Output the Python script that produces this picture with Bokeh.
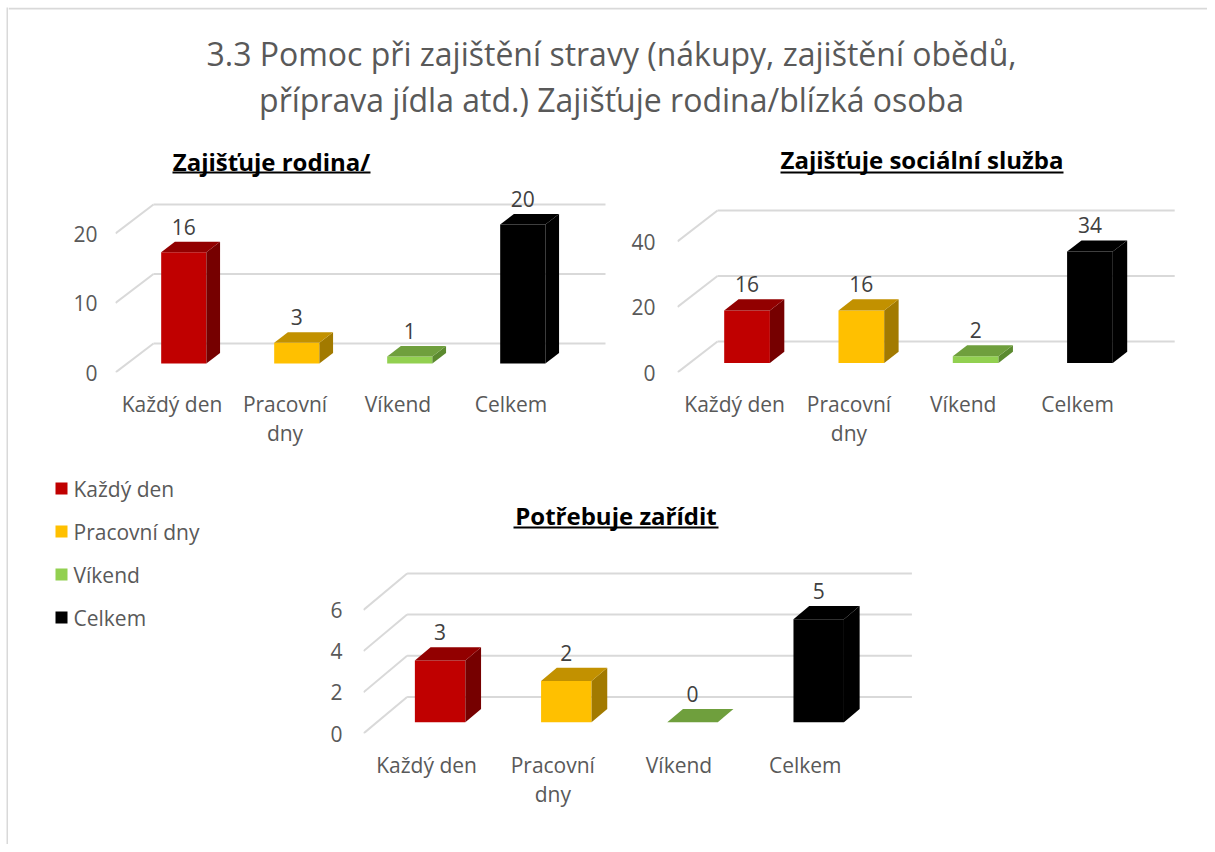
from bokeh.plotting import figure
from bokeh.layouts import column, row
from bokeh.models import Range1d, FixedTicker, Spacer
from bokeh.embed import file_html
from bokeh.resources import INLINE
from bokeh.core.properties import value

# ---------------- data ----------------
chart_title_lines = [
    "3.3 Pomoc při zajištění stravy (nákupy, zajištění obědů,",
    "příprava jídla atd.) Zajišťuje rodina/blízká osoba",
]
categories = ["Každý den", "Pracovní dny", "Víkend", "Celkem"]
category_axis_labels = ["Každý den", "Pracovní\ndny", "Víkend", "Celkem"]

rodina_title = "Zajišťuje rodina/"
rodina_values = [16, 3, 1, 20]
rodina_ticks = [0, 10, 20]

socialni_title = "Zajišťuje sociální služba"
socialni_values = [16, 16, 2, 34]
socialni_ticks = [0, 20, 40]

zaridit_title = "Potřebuje zařídit"
zaridit_values = [3, 2, 0, 5]
zaridit_ticks = [0, 2, 4, 6]

front_colors = ["#c00000", "#ffc000", "#92d050", "#000000"]
top_colors = ["#920000", "#c29100", "#6f9f3d", "#000000"]
side_colors = ["#760000", "#a27a00", "#5b8a2f", "#000000"]

FONT = value("Open Sans")
GREY = "#595959"
GRID = "#d9d9d9"


def make_chart(title, values, ticks, width, height, left, bottom, cat_px, val_px,
               depth_px, sub_x, sub_base, sub_line, sub_half, y_standoff):
    frame_w = width - left
    frame_h = height - bottom
    x0r = 0.5
    p = figure(width=width, height=height,
               x_range=Range1d(x0r, x0r + frame_w / cat_px),
               y_range=Range1d(0, frame_h / val_px),
               output_backend="svg", toolbar_location=None,
               min_border_left=left, min_border_bottom=bottom,
               min_border_top=0, min_border_right=0,
               outline_line_color=None, background_fill_color="white",
               border_fill_color="white")
    p.grid.visible = False
    dx = depth_px[0] / cat_px
    dy = depth_px[1] / val_px
    n = len(values)

    # walls: back gridlines and side-wall diagonals
    back = [t + dy for t in ticks]
    p.segment(x0=[x0r + dx] * len(ticks), y0=back,
              x1=[x0r + n + dx] * len(ticks), y1=back,
              line_color=GRID, line_width=2)
    p.segment(x0=[x0r] * len(ticks), y0=ticks,
              x1=[x0r + dx] * len(ticks), y1=back,
              line_color=GRID, line_width=2)

    # 3D bars
    f, b, w = 0.31, 0.67, 0.40
    centers = list(range(1, n + 1))
    lft = [c + f * dx - w / 2 for c in centers]
    rgt = [c + f * dx + w / 2 for c in centers]
    ddx = (b - f) * dx
    fy, by = f * dy, b * dy
    p.quad(left=lft, right=rgt, bottom=[fy] * n, top=[v + fy for v in values],
           fill_color=front_colors, line_color=None)
    p.patches(xs=[[r, r + ddx, r + ddx, r] for r in rgt],
              ys=[[fy, by, v + by, v + fy] for v in values],
              fill_color=side_colors, line_color=None)
    p.patches(xs=[[l, r, r + ddx, l + ddx] for l, r in zip(lft, rgt)],
              ys=[[v + fy, v + fy, v + by, v + by] for v in values],
              fill_color=top_colors, line_color=None)

    # value labels
    p.text(x=[c + f * dx for c in centers], y=[v + by for v in values],
           text=[str(v) for v in values], text_align="center",
           text_baseline="middle", y_offset=-15, text_font=FONT,
           text_font_size="21px", text_color="#404040")

    # subtitle with underline
    sx = x0r + sub_x / cat_px
    p.text(x=[sx], y=[sub_base / val_px], text=[title], text_align="center",
           text_baseline="alphabetic", text_font=FONT, text_font_size="24px",
           text_font_style="bold", text_color="#000000")
    p.segment(x0=[sx - sub_half / cat_px], x1=[sx + sub_half / cat_px],
              y0=[sub_line / val_px], y1=[sub_line / val_px],
              line_color="#000000", line_width=2)

    # axes
    ya = p.yaxis[0]
    ya.ticker = FixedTicker(ticks=ticks)
    ya.axis_line_color = None
    ya.major_tick_line_color = None
    ya.minor_tick_line_color = None
    ya.major_tick_in = 0
    ya.major_tick_out = 0
    ya.major_label_standoff = y_standoff
    ya.major_label_text_font = "Open Sans"
    ya.major_label_text_font_size = "21px"
    ya.major_label_text_color = GREY

    xa = p.xaxis[0]
    xa.ticker = FixedTicker(ticks=centers)
    xa.major_label_overrides = {c: lab for c, lab in zip(centers, category_axis_labels)}
    xa.axis_line_color = None
    xa.major_tick_line_color = None
    xa.minor_tick_line_color = None
    xa.major_tick_in = 0
    xa.major_tick_out = 0
    xa.major_label_standoff = 17
    xa.major_label_text_font = "Open Sans"
    xa.major_label_text_font_size = "21px"
    xa.major_label_text_color = GREY
    xa.major_label_text_line_height = 1.05
    return p


# ---------------- title ----------------
TW, TH = 1199, 123
title_fig = figure(width=TW, height=TH, x_range=Range1d(0, TW), y_range=Range1d(TH, 0),
                   output_backend="svg", toolbar_location=None, min_border=0,
                   x_axis_type=None, y_axis_type=None, outline_line_color=None)
title_fig.grid.visible = False
title_fig.segment(x0=[0], y0=[1], x1=[TW], y1=[1], line_color=GRID, line_width=2)
title_fig.text(x=[603, 603], y=[46, 92], text=chart_title_lines, text_align="center",
               text_baseline="middle", text_font=FONT, text_font_size="32px",
               text_color=GREY)

# ---------------- charts ----------------
ROW1_H, ROW2_H = 325, 389
fig_a = make_chart(rodina_title, rodina_values, rodina_ticks, 612, ROW1_H, 107, 83,
                   113, 6.95, (38, 29), 156, 211, 200, 99, 18)
fig_b = make_chart(socialni_title, socialni_values, socialni_ticks, 587, ROW1_H, 57, 83,
                   114.3, 3.275, (40, 31), 244.5, 213, 200, 141.5, 22)
C_BOTTOM = 111
fig_c = make_chart(zaridit_title, zaridit_values, zaridit_ticks, 907, ROW2_H, 63, C_BOTTOM,
                   126.2, 20.6, (43.6, 36.5), 252.5, 218, 206, 102.5, 21)

# ---------------- legend ----------------
LW = 292
LF = ROW2_H - C_BOTTOM
legend_fig = figure(width=LW, height=ROW2_H, x_range=Range1d(0, LW), y_range=Range1d(LF, 0),
                    output_backend="svg", toolbar_location=None, min_border=0,
                    min_border_bottom=C_BOTTOM,
                    x_axis_type=None, y_axis_type=None, outline_line_color=None)
legend_fig.grid.visible = False
ly = [33 + 43 * i for i in range(len(categories))]
legend_fig.scatter(x=[53] * len(categories), y=ly, marker="square", size=12,
                   fill_color=front_colors, line_color=None)
legend_fig.text(x=[65] * len(categories), y=ly, text=categories, text_align="left",
                text_baseline="middle", text_font=FONT, text_font_size="21px",
                text_color=GREY)

# ---------------- left frame strip ----------------
strip = figure(width=2, height=TH + ROW1_H + ROW2_H, output_backend="svg",
               toolbar_location=None, min_border=0, x_axis_type=None, y_axis_type=None,
               outline_line_color=None, background_fill_color=GRID, border_fill_color=GRID)
strip.grid.visible = False

content = column(title_fig, row(fig_a, fig_b), row(legend_fig, fig_c))
layout = column(Spacer(width=10, height=7), row(Spacer(width=6, height=10), strip, content))

open("out.html", "w").write(file_html(layout, INLINE))
